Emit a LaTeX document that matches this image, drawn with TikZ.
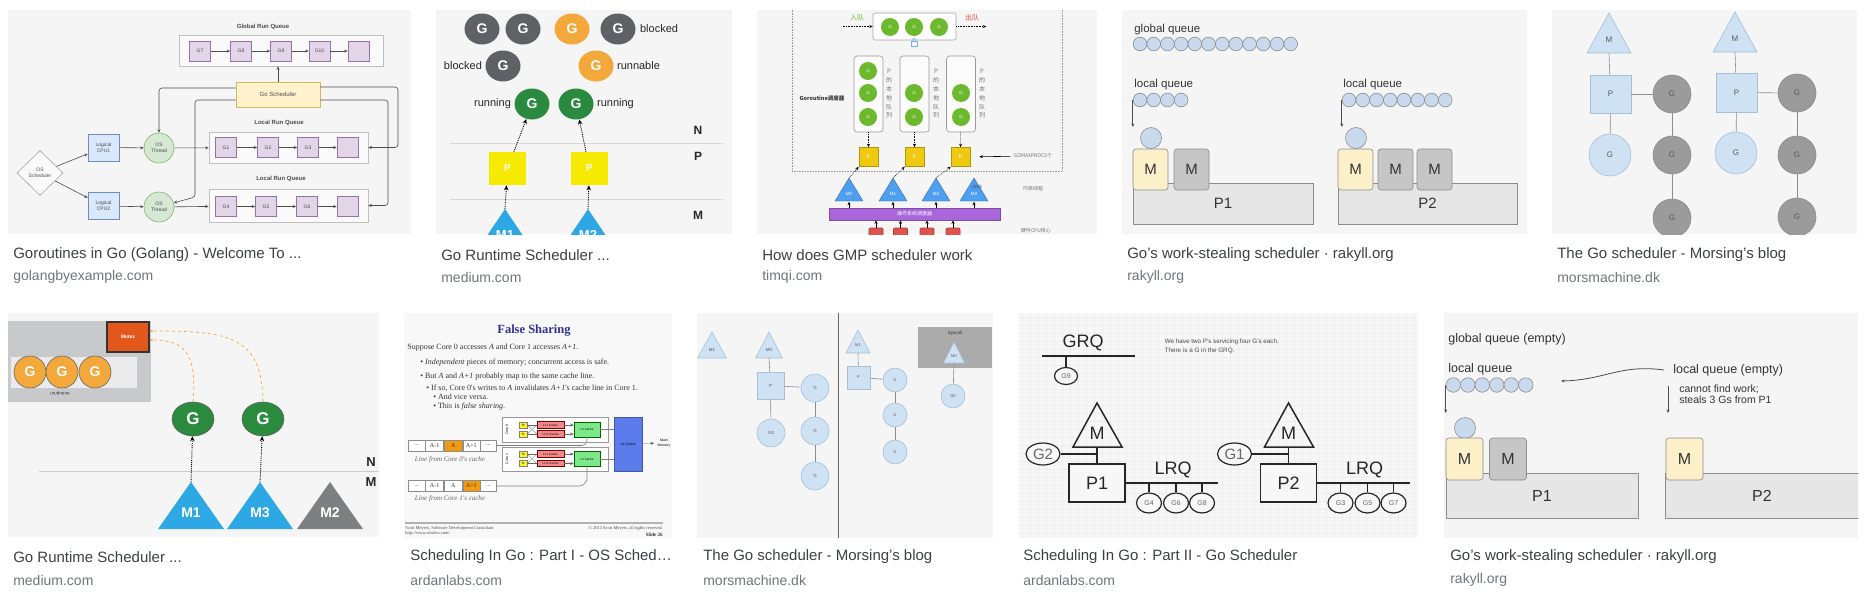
\documentclass[tikz,border=0pt]{standalone}
\usepackage{fontspec}
\setmainfont{Liberation Sans}
\newfontfamily\slidefont{Liberation Serif}
\newfontfamily\cjk{Noto Sans CJK SC}
\usepackage{graphicx}
\usepackage{tikz}
\usetikzlibrary{positioning}
\usetikzlibrary{arrows.meta}
\usetikzlibrary{shapes.geometric}

\newcommand{\fsz}[1]{\fontsize{#1}{1.2\dimexpr#1pt\relax}\selectfont}

\definecolor{thumbbg}{HTML}{F5F5F5}
\definecolor{captxt}{HTML}{3C4043}
\definecolor{sitetxt}{HTML}{70757A}
\definecolor{dioPurple}{HTML}{E1D5E7}
\definecolor{dioPurpleB}{HTML}{9673A6}
\definecolor{dioYellow}{HTML}{FFF2CC}
\definecolor{dioYellowB}{HTML}{D6B656}
\definecolor{dioBlue}{HTML}{DAE8FC}
\definecolor{dioBlueB}{HTML}{6C8EBF}
\definecolor{dioGreen}{HTML}{D5E8D4}
\definecolor{dioGreenB}{HTML}{82B366}
\definecolor{gBlocked}{HTML}{5F6166}
\definecolor{gRunnable}{HTML}{F2A83B}
\definecolor{gRunning}{HTML}{2A8A3E}
\definecolor{pYellow}{HTML}{F5EA00}
\definecolor{mBlue}{HTML}{2EA8E5}
\definecolor{mGray}{HTML}{7E7F81}
\definecolor{rqGray}{HTML}{C8C9CB}
\definecolor{mutexRed}{HTML}{E3571D}
\definecolor{tGreen}{HTML}{6CB92E}
\definecolor{tYellow}{HTML}{EEC90F}
\definecolor{tBlue}{HTML}{4E9FEF}
\definecolor{tPurple}{HTML}{A866DA}
\definecolor{tRed}{HTML}{E0524F}
\definecolor{rBlue}{HTML}{C9DAEF}
\definecolor{rYellow}{HTML}{FBF0C8}
\definecolor{rGray}{HTML}{C6C6C6}
\definecolor{rP}{HTML}{E6E6E6}
\definecolor{msLight}{HTML}{CFE2F3}
\definecolor{msLightB}{HTML}{A7BFD6}
\definecolor{msDark}{HTML}{9B9B9B}
\definecolor{slidebg}{HTML}{F8F8F8}
\definecolor{slideBlue}{HTML}{2E3192}
\definecolor{cacheOrange}{HTML}{F29A0E}
\definecolor{l1Red}{HTML}{F08A8A}
\definecolor{l2Green}{HTML}{7DE88A}
\definecolor{l3Blue}{HTML}{5B7CEA}
\definecolor{gridbg}{HTML}{F7F7F7}

\tikzset{
  caption/.style={anchor=west, inner sep=0, text=captxt, font=\fsz{15}},
  site/.style={anchor=west, inner sep=0, text=sitetxt, font=\fsz{14}},
  gq/.style={draw=dioPurpleB, fill=dioPurple, minimum width=21, minimum height=20, inner sep=0, font=\fsz{5}},
  runq/.style={draw=black!25, fill=white!50!thumbbg, inner sep=0},
  cpubox/.style={draw=dioBlueB, fill=dioBlue, minimum width=31, minimum height=27, inner sep=0, align=center, font=\fsz{5}},
  osthread/.style={circle, draw=dioGreenB, fill=dioGreen, minimum size=30, inner sep=0, align=center, font=\fsz{5}},
  gdot/.style={ellipse, minimum width=35, minimum height=31, inner sep=0, text=white, font=\bfseries\fsz{14}},
  gtag/.style={inner sep=0, text=black!85, font=\fsz{11}},
  gorange/.style={circle, fill=gRunnable, draw=black!60, minimum size=32, inner sep=0, text=white, font=\bfseries\fsz{14}},
  tg/.style={circle, fill=tGreen, minimum size=18, inner sep=0, text=white, font=\fsz{4.5}},
  tlq/.style={draw=black!40, fill=white!60!thumbbg, rounded corners=3, minimum width=29, minimum height=76, inner sep=0},
  tp/.style={fill=tYellow, draw=tYellow!75!black, minimum size=19, inner sep=0, text=white, font=\fsz{5}},
  tvert/.style={align=center, inner sep=0, text=black!55, font=\cjk\fontsize{6}{8.8}\selectfont},
  tcpu/.style={fill=tRed, draw=tRed!75!black, rounded corners=1, minimum width=14, minimum height=12, inner sep=0},
  rlabel/.style={anchor=west, inner sep=0, text=black!80, font=\fsz{11.5}},
  rarrow/.style={->, draw=black!70, line width=0.8},
  rg/.style={circle, draw=black!45, fill=rBlue, minimum size=13.7, inner sep=0},
  rm/.style={draw=black!45, rounded corners=3, minimum width=35, minimum height=41, inner sep=0, text=black!80, font=\fsz{15}},
  rp/.style={draw=black!45, fill=rP, minimum height=41, inner sep=0, text=black!80, font=\fsz{15}},
  msbox/.style={fill=msLight, draw=msLightB, inner sep=0, text=black!65, font=\fsz{8}},
  msg/.style={circle, fill=msLight, draw=msLightB, inner sep=0, text=black!65, font=\fsz{8}},
  msd/.style={circle, fill=msDark, draw=black!45, inner sep=0, text=black!65, font=\fsz{8}},
  msline/.style={draw=black!45},
  slidetxt/.style={anchor=west, inner sep=0, text=black!80, font=\slidefont\fsz{8}},
  cell/.style={draw=black!45, fill=white, minimum height=11, inner sep=0, text=black!80, font=\slidefont\fsz{6}},
  tt/.style={fill=yellow!85!white, draw=black!50, minimum width=8, minimum height=6, inner sep=0, font=\fsz{3}},
  lone/.style={fill=l1Red, draw=red!50!black, minimum width=27, minimum height=6.5, inner sep=0, font=\fsz{3}},
  ltwo/.style={fill=l2Green, draw=green!40!black, minimum width=26, minimum height=15, inner sep=0, font=\fsz{3}},
  gridline/.style={draw=black!7, line width=0.4},
  ardg/.style={ellipse, draw=black!85, line width=1.2, fill=gridbg, minimum width=25, minimum height=20, inner sep=0, text=black!60, font=\fsz{7}},
}

\begin{document}
\begin{tikzpicture}[x=1pt, y=-1pt, line width=0.6pt, >={Stealth[length=3.5pt, width=3pt]}]
  \fill[white] (0,0) rectangle (1868,592);
  \useasboundingbox (0,0) rectangle (1868,592);

  % golangbyexample
  \begin{scope}[black!70]
    \fill[thumbbg] (8,10) rectangle (411,234);
    \node[font=\bfseries\fsz{6}] (grqT) at (263,27) {Global Run Queue};
    \node[runq, minimum width=204, minimum height=31] (grq) at (281,50.5) {};
    \node[gq] (g7) at (200,51) {G7};
    \node[gq] (g8) at (241,51) {G8};
    \node[gq] (g9) at (281,51) {G9};
    \node[gq] (g10) at (319.5,51) {G10};
    \node[gq] (gx0) at (358.5,51) {};
    \draw[->] (g7) -- (g8);
    \draw[->] (g8) -- (g9);
    \draw[->] (g9) -- (g10);
    \draw[->] (g10) -- (gx0);
    \node[draw=dioYellowB, fill=dioYellow, minimum width=84, minimum height=25, inner sep=0, font=\fsz{6}] (gosch) at (278,94.5) {Go Scheduler};
    \draw[->] (gosch.north) -- (gosch.north |- grq.south);
    \node[font=\bfseries\fsz{6}] (lrqT1) at (279,123) {Local Run Queue};
    \node[runq, minimum width=159, minimum height=31] (lrq1) at (288.5,147.5) {};
    \node[gq] (g1) at (226,147.5) {G1};
    \node[gq] (g2) at (268,147.5) {G2};
    \node[gq] (g3) at (308,147.5) {G3};
    \node[gq] (gx1) at (347.5,147.5) {};
    \draw[->] (g1) -- (g2);
    \draw[->] (g2) -- (g3);
    \draw[->] (g3) -- (gx1);
    \node[font=\bfseries\fsz{6}] (lrqT2) at (281,179) {Local Run Queue};
    \node[runq, minimum width=159, minimum height=33] (lrq2) at (288.5,205.5) {};
    \node[gq] (g4) at (226,206.5) {G4};
    \node[gq] (g5) at (266,206.5) {G5};
    \node[gq] (g6) at (307,206.5) {G6};
    \node[gq] (gx2) at (347.5,206.5) {};
    \draw[->] (g4) -- (g5);
    \draw[->] (g5) -- (g6);
    \draw[->] (g6) -- (gx2);
    \node[diamond, draw=black!35, fill=white!40!thumbbg, minimum width=46, minimum height=45, inner sep=0, align=center, font=\fsz{5}] (ossch) at (40,173) {OS\\Scheduler};
    \node[cpubox] (cpu1) at (103.5,147.5) {Logical\\CPU1};
    \node[cpubox] (cpu2) at (103.5,206) {Logical\\CPU2};
    \node[osthread] (th1) at (159,148) {OS\\Thread};
    \node[osthread] (th2) at (159,207) {OS\\Thread};
    \draw[->] (ossch) -- (cpu1);
    \draw[->] (ossch) -- (cpu2);
    \draw[->] (cpu1) -- (th1);
    \draw[->] (cpu2) -- (th2);
    \draw[->] (th1) -- (lrq1);
    \draw[->] (th2) -- (lrq2);
    \draw[->, rounded corners=3] ([yshift=6.5]gosch.west) -| (th1);
    \draw[->, rounded corners=3] ([yshift=-5.5]gosch.west) -| (195,197) -- (th2);
    \draw[->, rounded corners=3] ([yshift=7.5]gosch.east) -| (398,147.5) -- (lrq1.east);
    \draw[->, rounded corners=3] ([yshift=-5.5]gosch.east) -| (388,205.5) -- (lrq2.east);
  \end{scope}

  % medium, G states
  \begin{scope}
    \clip (436,10) rectangle (732,234);
    \fill[thumbbg] (436,10) rectangle (732,234);
    \node[gdot, fill=gBlocked] (gb1) at (482,29) {G};
    \node[gdot, fill=gBlocked] (gb2) at (523,29) {G};
    \node[gdot, fill=gRunnable] (gr1) at (572,29) {G};
    \node[gdot, fill=gBlocked] (gb3) at (618,29) {G};
    \node[gtag, right=4pt of gb3] (tagb1) {blocked};
    \node[gdot, fill=gBlocked] (gb4) at (503,66) {G};
    \node[gtag, left=3pt of gb4] (tagb2) {blocked};
    \node[gdot, fill=gRunnable] (gr2) at (596,66) {G};
    \node[gtag, right=3pt of gr2] (tagr) {runnable};
    \node[gdot, fill=gRunning] (gn1) at (532,104) {G};
    \node[gtag, left=3pt of gn1] (tagn1) {running};
    \node[gdot, fill=gRunning] (gn2) at (576,104) {G};
    \node[gtag, right=3pt of gn2] (tagn2) {running};
    \node[font=\bfseries\fsz{12}, text=black!85] (lvN) at (698,130) {N};
    \node[font=\bfseries\fsz{12}, text=black!85] (lvP) at (698,156) {P};
    \node[font=\bfseries\fsz{12}, text=black!85] (lvM) at (698,215) {M};
    \draw[black!15, line width=1] (450,143) -- (723,143);
    \draw[black!15, line width=1] (450,199) -- (723,199);
    \node[fill=pYellow, minimum width=37, minimum height=33, inner sep=0, text=white, font=\bfseries\fsz{10}] (pp1) at (507.5,168.5) {P};
    \node[fill=pYellow, minimum width=37, minimum height=33, inner sep=0, text=white, font=\bfseries\fsz{10}] (pp2) at (589.5,168.5) {P};
    \fill[mBlue] (505,209) -- (472,258) -- (538,258) -- cycle;
    \fill[mBlue] (588,209) -- (555,258) -- (621,258) -- cycle;
    \coordinate (mm1) at (505,209);
    \coordinate (mm2) at (588,209);
    \node[text=white, font=\bfseries\fsz{13}] (mm1t) at (505,235) {M1};
    \node[text=white, font=\bfseries\fsz{13}] (mm2t) at (588,235) {M2};
    \draw[-{Stealth[length=5pt, width=4.5pt]}, densely dotted, line width=0.9] (mm1) -- (pp1);
    \draw[-{Stealth[length=5pt, width=4.5pt]}, densely dotted, line width=0.9] (mm2) -- (pp2);
    \draw[-{Stealth[length=5pt, width=4.5pt]}, densely dotted, line width=0.9] (pp1) -- (gn1);
    \draw[-{Stealth[length=5pt, width=4.5pt]}, densely dotted, line width=0.9] (pp2) -- (gn2);
  \end{scope}

  % timqi, GMP
  \begin{scope}
    \clip (757,10) rectangle (1097,234);
    \fill[thumbbg] (757,10) rectangle (1097,234);
    \draw[black!40, densely dotted] (792,0) rectangle (1062,171);
    \node[draw=black!35, fill=white, rounded corners=2, minimum width=83, minimum height=27, inner sep=0] (tgq) at (914.5,26.5) {};
    \node[tg] (tgq1) at (890,27) {G};
    \node[tg] (tgq2) at (914,27) {G};
    \node[tg] (tgq3) at (939,27) {G};
    \node[text=tGreen, font=\cjk\fsz{7}] (tin) at (857,18) {入队};
    \node[text=tRed, font=\cjk\fsz{7}] (tout) at (972,18) {出队};
    \draw[<-, densely dotted] (tgq.west) -- ++(-30,0);
    \draw[->, densely dotted] (tgq.east) -- ++(30,0);
    \draw[tBlue!80, line width=0.5] (911,41) rectangle (917,46);
    \draw[tBlue!80, line width=0.5] (912.5,41) -- (912.5,39.5) arc[start angle=180, end angle=360, radius=1.5] -- (915.5,41);
    \node[tlq] (tlq1) at (868.5,94) {};
    \node[tlq] (tlq2) at (914.5,94) {};
    \node[tlq] (tlq3) at (961,94) {};
    \node[tg] (tl11) at (868,71) {G};
    \node[tg] (tl12) at (868,93) {G};
    \node[tg] (tl13) at (868,117) {G};
    \node[tg] (tl22) at (914,93) {G};
    \node[tg] (tl23) at (914,117) {G};
    \node[tg] (tl32) at (961,93) {G};
    \node[tg] (tl33) at (961,117) {G};
    \node[tvert] (tv1) at (889,94) {P\\的\\本\\地\\队\\列};
    \node[tvert] (tv2) at (936,94) {P\\的\\本\\地\\队\\列};
    \node[tvert] (tv3) at (982,94) {P\\的\\本\\地\\队\\列};
    \node[font=\cjk\bfseries\fsz{5.5}, text=black!80] (tgs) at (822,98) {Goroutine调度器};
    \node[tp] (tp1) at (868.5,157) {P};
    \node[tp] (tp2) at (914.5,157) {P};
    \node[tp] (tp3) at (960.5,157) {P};
    \draw[->, densely dotted] (tlq1) -- (tp1);
    \draw[->, densely dotted] (tlq2) -- (tp2);
    \draw[->, densely dotted] (tlq3) -- (tp3);
    \node[font=\cjk\fsz{5}, text=black!55] (tgmx) at (1033,156) {GOMAXPROCS个};
    \draw[->, shorten >=9] (tgmx) -- (tp3);
    \node[fill=tPurple, draw=tPurple!75!black, minimum width=171, minimum height=12, inner sep=0, text=white, font=\cjk\fsz{5}] (tos) at (914.5,214) {操作系统调度器};
    \foreach \x/\n in {849/0, 893/1, 936/2, 974/3} {
      \filldraw[fill=tBlue, draw=tBlue!70!black, line width=0.4] (\x,178) -- (\x-14,201) -- (\x+14,201) -- cycle;
      \coordinate (tm\n) at (\x,178);
      \node[text=white, font=\fsz{4.5}] (tmt\n) at (\x,194) {M\n};
      \draw[->] (tos.north -| tm\n) -- ++(0,-6);
    }
    \draw[->, densely dotted] (tm0) -- (tp1.south west);
    \draw[->, densely dotted] (tm1) -- (tp2.south west);
    \draw[->, densely dotted] (tm2) -- (tp3.south west);
    \node[font=\cjk\fsz{4}, text=black!70] (tidle) at (977,187) {(空闲)};
    \node[font=\cjk\fsz{5}, text=black!55] (tkt) at (1033,189) {内核线程};
    \foreach \x/\n in {876/1, 900.5/2, 927/3, 953/4} {
      \node[tcpu] (tc\n) at (\x,234) {};
      \draw[->] (tc\n) -- (tc\n |- tos.south);
    }
    \node[font=\cjk\fsz{5}, text=black!55] (thw) at (1036,231) {硬件CPU核心};
  \end{scope}

  % rakyll, local queues
  \fill[thumbbg] (1122,10) rectangle (1527,234);
  \node[rlabel] (rgqT) at (1134,30) {global queue};
  \foreach \i in {0,...,11}
    \node[rg] (rgq\i) at (1140+13.7*\i,44) {};
  \node[rlabel] (rlqT1) at (1134,85) {local queue};
  \foreach \i in {0,...,3}
    \node[rg] (rlqa\i) at (1140+13.7*\i,100) {};
  \draw[rarrow] (rlqa0.west) -- ++(0,27);
  \node[rp, minimum width=180] (rp1) at (1223,203.5) {P1};
  \node[rg, minimum size=21] (rcur1) at (1151,138) {};
  \node[rm, fill=rYellow] (rm1) at (1150.5,169.5) {M};
  \node[rm, fill=rGray] (rm2) at (1191.5,169.5) {M};
  \node[rlabel] (rlqT2) at (1343,85) {local queue};
  \foreach \i in {0,...,7}
    \node[rg] (rlqb\i) at (1349+13.75*\i,100) {};
  \draw[rarrow] (rlqb0.west) -- ++(0,27);
  \node[rp, minimum width=179] (rp2) at (1427.5,203.5) {P2};
  \node[rg, minimum size=21] (rcur2) at (1356,138) {};
  \node[rm, fill=rYellow] (rm3) at (1355.5,169.5) {M};
  \node[rm, fill=rGray] (rm4) at (1395.5,169.5) {M};
  \node[rm, fill=rGray] (rm5) at (1434.5,169.5) {M};

  % morsing, M P G
  \begin{scope}
    \clip (1552,10) rectangle (1857,234);
    \fill[thumbbg] (1552,10) rectangle (1857,234);
    \filldraw[fill=msLight, draw=msLightB] (1609,13) -- (1587,53) -- (1631,53) -- cycle;
    \node[text=black!65, font=\fsz{8}] (msm1) at (1609,40) {M};
    \coordinate (msb1) at (1609,53);
    \node[msbox, minimum width=41, minimum height=38] (msp1) at (1610.5,94) {P};
    \node[msg, minimum size=42] (msl1) at (1610,155) {G};
    \node[msd, minimum size=38] (msd11) at (1672,94) {G};
    \node[msd, minimum size=38] (msd12) at (1672,155) {G};
    \node[msd, minimum size=38] (msd13) at (1672,218) {G};
    \draw[msline] (msb1) -- (msp1);
    \draw[msline] (msp1) -- (msl1);
    \draw[msline] (msp1) -- (msd11);
    \draw[msline] (msd11) -- (msd12);
    \draw[msline] (msd12) -- (msd13);
    \filldraw[fill=msLight, draw=msLightB] (1735,12) -- (1713,52) -- (1757,52) -- cycle;
    \node[text=black!65, font=\fsz{8}] (msm2) at (1735,39) {M};
    \coordinate (msb2) at (1735,52);
    \node[msbox, minimum width=41, minimum height=39] (msp2) at (1736.5,92.5) {P};
    \node[msg, minimum size=42] (msl2) at (1736,153) {G};
    \node[msd, minimum size=38] (msd21) at (1797,93) {G};
    \node[msd, minimum size=38] (msd22) at (1797,155) {G};
    \node[msd, minimum size=38] (msd23) at (1797,217) {G};
    \draw[msline] (msb2) -- (msp2);
    \draw[msline] (msp2) -- (msl2);
    \draw[msline] (msp2) -- (msd21);
    \draw[msline] (msd21) -- (msd22);
    \draw[msline] (msd22) -- (msd23);
  \end{scope}

  % medium, runqueue and mutex
  \begin{scope}
    \clip (8,313) rectangle (379,537);
    \fill[thumbbg] (8,313) rectangle (379,537);
    \node[fill=rqGray, minimum width=143, minimum height=81, inner sep=0] (rqbox) at (79.5,361.5) {};
    \node[fill=white!92!black, minimum width=126, minimum height=31, inner sep=0] (rqin) at (74,372.5) {};
    \node[gorange] (rqg1) at (30,372) {G};
    \node[gorange] (rqg2) at (62,372) {G};
    \node[gorange] (rqg3) at (95,372) {G};
    \node[font=\fsz{4.5}, text=black!80] (rqname) at (60,393) {\scalebox{1}[-1]{runqueue}};
    \node[fill=mutexRed, draw=black!80, line width=1.2, minimum width=42, minimum height=30, inner sep=0, text=white, font=\bfseries\fsz{5}] (mutex) at (128,337) {Mutex};
    \node[gdot, fill=gRunning, draw=black!60, minimum width=42, minimum height=34, font=\bfseries\fsz{17}] (mg1) at (193,419) {G};
    \node[gdot, fill=gRunning, draw=black!60, minimum width=42, minimum height=34, font=\bfseries\fsz{17}] (mg2) at (263,419) {G};
    \draw[->, dashed, gRunnable, line width=0.7] (mg1.north) .. controls (198,348) and (180,340) .. ([yshift=-3]mutex.east);
    \draw[->, dashed, gRunnable, line width=0.7] (mg2.north) .. controls (262,335) and (228,331) .. ([yshift=6]mutex.east);
    \draw[black!20, line width=1] (39,471) -- (379,471);
    \node[font=\bfseries\fsz{13}, text=black!85] (lvN2) at (371,462) {N};
    \node[font=\bfseries\fsz{13}, text=black!85] (lvM2) at (371,482) {M};
    \fill[mBlue] (191,482) -- (158,529) -- (224,529) -- cycle;
    \fill[mBlue] (260,482) -- (227,529) -- (293,529) -- cycle;
    \fill[mGray] (330,482) -- (297,529) -- (363,529) -- cycle;
    \node[text=white, font=\bfseries\fsz{14}] (mt1) at (191,513) {M1};
    \node[text=white, font=\bfseries\fsz{14}] (mt3) at (260,513) {M3};
    \node[text=white, font=\bfseries\fsz{14}] (mt2) at (330,513) {M2};
    \coordinate (mt1a) at (191,482);
    \coordinate (mt3a) at (260,482);
    \draw[-{Stealth[length=5pt, width=4.5pt]}, densely dotted, line width=0.9] (mt1a) -- (mg1);
    \draw[-{Stealth[length=5pt, width=4.5pt]}, densely dotted, line width=0.9] (mt3a) -- (mg2);
  \end{scope}

  % ardanlabs, false sharing slide
  \begin{scope}
    \clip (404,313) rectangle (672,538);
    \fill[slidebg] (404,313) rectangle (672,538);
    \node[font=\slidefont\bfseries\fsz{12.5}, text=slideBlue] (fsT) at (534,331) {False Sharing};
    \node[slidetxt] (fs1) at (407,348) {Suppose Core 0 accesses \textit{A} and Core 1 accesses \textit{A+1}.};
    \node[slidetxt] (fs2) at (420,363) {\textbullet\ \textit{Independent} pieces of memory; concurrent access is safe.};
    \node[slidetxt] (fs3) at (420,377) {\textbullet\ But \textit{A} and \textit{A+1} probably map to the same cache line.};
    \node[slidetxt] (fs4) at (426,388) {\textbullet\ If so, Core 0's writes to \textit{A} invalidates \textit{A+1}'s cache line in Core 1.};
    \node[slidetxt] (fs5) at (433,397) {\textbullet\ And vice versa.};
    \node[slidetxt] (fs6) at (433,407) {\textbullet\ This is \textit{false sharing}.};
    \node[draw=black!40, fill=white, minimum width=106, minimum height=25, inner sep=0] (core0) at (555,429.5) {};
    \node[draw=black!40, fill=white, minimum width=106, minimum height=24, inner sep=0] (core1) at (555,459) {};
    \node[rotate=90, font=\fsz{3.5}] (core0T) at (507,429.5) {Core 0};
    \node[rotate=90, font=\fsz{3.5}] (core1T) at (507,459) {Core 1};
    \node[fill=l3Blue, draw=l3Blue!70!black, minimum width=28, minimum height=54, inner sep=0, font=\fsz{3.5}] (l3) at (628,444) {L3 Cache};
    \foreach \c/\ya/\yb/\ym in {0/425/434/429.5, 1/454/463.5/459} {
      \node[tt] (t0c\c) at (523,\ya) {T0};
      \node[tt] (t1c\c) at (523,\yb) {T1};
      \node[lone] (l1ic\c) at (550.5,\ya) {L1 I-Cache};
      \node[lone] (l1dc\c) at (550.5,\yb) {L1 D-Cache};
      \node[ltwo] (l2c\c) at (587,\ym) {L2 Cache};
      \fill[cacheOrange] ([yshift=-1.5]l2c\c.north) circle (0.9);
      \draw[black!60, line width=0.3] (t0c\c.east) -- (l1ic\c.west);
      \draw[black!60, line width=0.3] (t1c\c.east) -- (l1dc\c.west);
      \draw[black!60, line width=0.3] (t0c\c.east) -- (l1dc\c.west);
      \draw[black!60, line width=0.3] (t1c\c.east) -- (l1ic\c.west);
      \draw[black!60, line width=0.3, ->] (l1ic\c.east) -- (l1ic\c.east -| l2c\c.west);
      \draw[black!60, line width=0.3, ->] (l1dc\c.east) -- (l1dc\c.east -| l2c\c.west);
      \draw[black!50, line width=0.4] (l2c\c.east) -- (l2c\c.east -| l3.west);
    }
    \node[font=\fsz{3.5}, align=center] (mainmem) at (664,443) {Main\\Memory};
    \draw[->, black!60, line width=0.3] (l3) -- (mainmem);
    \node[cell, minimum width=17] (cl0a) at (416.5,445.5) {...};
    \node[cell, minimum width=18, right=0pt of cl0a] (cl0b) {A-1};
    \node[cell, minimum width=18, fill=cacheOrange, right=0pt of cl0b] (cl0c) {A};
    \node[cell, minimum width=17, right=0pt of cl0c] (cl0d) {A+1};
    \node[cell, minimum width=16, right=0pt of cl0d] (cl0e) {...};
    \node[font=\slidefont\itshape\fsz{7}, text=black!60] (cl0T) at (450,460) {Line from Core 0's cache};
    \node[cell, minimum width=17] (cl1a) at (416.5,486) {...};
    \node[cell, minimum width=18, right=0pt of cl1a] (cl1b) {A-1};
    \node[cell, minimum width=18, right=0pt of cl1b] (cl1c) {A};
    \node[cell, minimum width=17, fill=cacheOrange, right=0pt of cl1c] (cl1d) {A+1};
    \node[cell, minimum width=16, right=0pt of cl1d] (cl1e) {...};
    \node[font=\slidefont\itshape\fsz{7}, text=black!60] (cl1T) at (450,499) {Line from Core 1's cache};
    \draw[black!50, rounded corners=5] (cl0e.east) -| (l2c0.south);
    \draw[black!50, rounded corners=8] (cl1e.east) -| (l2c1.south);
    \draw[black!30, line width=1.5] (405,523) -- (663,523);
    \node[anchor=west, inner sep=0, text=black!70, font=\slidefont\fsz{4.5}] (ft1) at (405,528) {Scott Meyers, Software Development Consultant};
    \node[anchor=west, inner sep=0, text=black!70, font=\slidefont\fsz{4.5}] (ft2) at (405,533) {http://www.aristeia.com/};
    \node[anchor=east, inner sep=0, text=black!70, font=\slidefont\fsz{4.5}] (ft3) at (663,528) {\textcopyright{} 2013 Scott Meyers, all rights reserved.};
    \node[anchor=east, inner sep=0, text=black!80, font=\slidefont\bfseries\fsz{5}] (ft4) at (663,535) {Slide 26};
  \end{scope}

  % morsing, syscall
  \fill[thumbbg] (697,313) rectangle (993,538);
  \coordinate (msdivT) at (838,313);
  \coordinate (msdivB) at (838,538);
  \draw[black!60, line width=0.8] (msdivT) -- (msdivB);
  \filldraw[fill=msLight, draw=msLightB] (712,332) -- (697.5,358) -- (726.5,358) -- cycle;
  \filldraw[fill=msLight, draw=msLightB] (769,332) -- (755.5,358) -- (782.5,358) -- cycle;
  \node[text=black!65, font=\fsz{4.5}] (ms3m1) at (712,350) {M1};
  \node[text=black!65, font=\fsz{4.5}] (ms3m0) at (769,350) {M0};
  \coordinate (ms3b) at (769,358);
  \node[msbox, minimum size=27, font=\fsz{4.5}] (ms3p) at (770.5,385.5) {P};
  \node[msg, minimum size=28, font=\fsz{4.5}] (ms3g0) at (771,433) {G0};
  \node[msg, minimum size=28, font=\fsz{4.5}] (ms3g1) at (815,388) {G};
  \node[msg, minimum size=28, font=\fsz{4.5}] (ms3g2) at (815,431) {G};
  \node[msg, minimum size=28, font=\fsz{4.5}] (ms3g3) at (815,476) {G};
  \draw[msline] (ms3b) -- (ms3p);
  \draw[msline] (ms3p) -- (ms3g0);
  \draw[msline] (ms3p) -- (ms3g1);
  \draw[msline] (ms3g1) -- (ms3g2);
  \draw[msline] (ms3g2) -- (ms3g3);
  \filldraw[fill=msLight, draw=msLightB] (858,330) -- (846,353) -- (870,353) -- cycle;
  \node[text=black!65, font=\fsz{4}] (ms4m1) at (858,345) {M1};
  \coordinate (ms4b) at (858,353);
  \node[msbox, minimum size=23, font=\fsz{4}] (ms4p) at (858.5,377.5) {P};
  \node[msg, minimum size=24, font=\fsz{4}] (ms4g1) at (895,380) {G};
  \node[msg, minimum size=24, font=\fsz{4}] (ms4g2) at (895,415) {G};
  \node[msg, minimum size=24, font=\fsz{4}] (ms4g3) at (895,452) {G};
  \draw[msline] (ms4b) -- (ms4p);
  \draw[msline] (ms4p) -- (ms4g1);
  \draw[msline] (ms4g1) -- (ms4g2);
  \draw[msline] (ms4g2) -- (ms4g3);
  \node[fill=black!33, minimum width=74, minimum height=41, inner sep=0] (sysc) at (955,347.5) {};
  \node[text=black!80, font=\fsz{4.5}] (syscT) at (955,333) {Syscall};
  \filldraw[fill=msLight, draw=msLightB] (954,342) -- (943.5,363) -- (964.5,363) -- cycle;
  \node[text=black!65, font=\fsz{4}] (ms4m0) at (954,356) {M0};
  \coordinate (ms4c) at (954,363);
  \node[msg, minimum size=24, font=\fsz{4}] (ms4g0) at (953,396) {G0};
  \draw[msline] (ms4c) -- (ms4g0);

  % ardanlabs, GRQ and LRQ
  \fill[gridbg] (1018,313) rectangle (1418,538);
  \foreach \gx in {1022,1030,...,1414}
    \draw[gridline] (\gx,313) -- (\gx,538);
  \foreach \gy in {317,325,...,533}
    \draw[gridline] (1018,\gy) -- (1418,\gy);
  \begin{scope}[black!85, line width=1.5]
    \node[font=\fsz{18}] (agrq) at (1083,343) {GRQ};
    \coordinate (grqL) at (1042,356);
    \coordinate (grqR) at (1135,356);
    \draw (grqL) -- (grqR);
    \node[ardg, minimum width=23, minimum height=17] (ag9) at (1066,376) {G9};
    \draw (ag9) -- (ag9 |- grqL);
    \node[anchor=north west, align=left, inner sep=0, text=black!70, font=\fontsize{6.3}{9}\selectfont] (anote) at (1164,338) {We have two P's servicing four G's each.\\There is a G in the GRQ.};
    \draw (1097,403) -- (1073,447) -- (1122,447) -- cycle;
    \node[font=\fsz{18}] (am1) at (1097,433) {M};
    \coordinate (am1b) at (1097,447);
    \node[draw, fill=gridbg, minimum width=56, minimum height=38, inner sep=0, font=\fsz{18}] (ap1) at (1097,483) {P1};
    \draw (am1b) -- (ap1);
    \node[ardg, minimum width=34, minimum height=22, font=\fsz{15}] (ag2) at (1043,454) {G2};
    \draw (ag2) -- (ag2 -| ap1);
    \node[font=\fsz{18}] (alrq1) at (1173,470) {LRQ};
    \coordinate (alrqE1) at (1218,483);
    \draw (ap1.east) -- (alrqE1);
    \node[ardg] (ag4) at (1149,503) {G4};
    \node[ardg] (ag6) at (1176,503) {G6};
    \node[ardg] (ag8) at (1202,503) {G8};
    \draw (ag4) -- (ag4 |- alrqE1);
    \draw (ag6) -- (ag6 |- alrqE1);
    \draw (ag8) -- (ag8 |- alrqE1);
    \draw (1288.5,403) -- (1264.5,447) -- (1313.5,447) -- cycle;
    \node[font=\fsz{18}] (am2) at (1288.5,433) {M};
    \coordinate (am2b) at (1288.5,447);
    \node[draw, fill=gridbg, minimum width=56, minimum height=38, inner sep=0, font=\fsz{18}] (ap2) at (1288.5,483) {P2};
    \draw (am2b) -- (ap2);
    \node[ardg, minimum width=34, minimum height=22, font=\fsz{15}] (ag1) at (1234.5,454) {G1};
    \draw (ag1) -- (ag1 -| ap2);
    \node[font=\fsz{18}] (alrq2) at (1364.5,470) {LRQ};
    \coordinate (alrqE2) at (1409.5,483);
    \draw (ap2.east) -- (alrqE2);
    \node[ardg] (ag3) at (1340.5,503) {G3};
    \node[ardg] (ag5) at (1367.5,503) {G5};
    \node[ardg] (ag7) at (1393.5,503) {G7};
    \draw (ag3) -- (ag3 |- alrqE2);
    \draw (ag5) -- (ag5 |- alrqE2);
    \draw (ag7) -- (ag7 |- alrqE2);
  \end{scope}

  % rakyll, stealing
  \begin{scope}
    \clip (1444,313) rectangle (1858,538);
    \fill[thumbbg] (1444,313) rectangle (1858,538);
    \node[rlabel, font=\fsz{12.5}] (r2gqT) at (1448,339) {global queue (empty)};
    \node[rlabel, font=\fsz{12.5}] (r2lqT) at (1448,369) {local queue};
    \foreach \i in {0,...,5}
      \node[rg, minimum size=14.5] (r2lq\i) at (1453.25+14.5*\i,385) {};
    \draw[rarrow] (r2lq0.west) -- ++(0,28);
    \node[rp, minimum width=192, minimum height=45, font=\fsz{16}] (r2p1) at (1542,495.5) {P1};
    \node[rg, minimum size=21] (r2cur) at (1465,428) {};
    \node[rm, fill=rYellow, minimum width=37, minimum height=42, font=\fsz{16}] (r2m1) at (1464.5,459) {M};
    \node[rm, fill=rGray, minimum width=37, minimum height=42, font=\fsz{16}] (r2m2) at (1508,459) {M};
    \node[rlabel, font=\fsz{12.5}] (r2lqe) at (1673,370) {local queue (empty)};
    \coordinate (stealTo) at (1561,381);
    \draw[rarrow] ([xshift=-9]r2lqe.west) .. controls (1620,364) and (1605,380) .. (stealTo);
    \node[rlabel, anchor=north west, align=left, font=\fontsize{10.5}{11}\selectfont] (r2steal) at (1679,385) {cannot find work;\\steals 3 Gs from P1};
    \coordinate (r2arr) at (1668,386);
    \draw[rarrow] (r2arr) -- ++(0,27);
    \node[rp, minimum width=194, minimum height=45, font=\fsz{16}] (r2p2) at (1762,495.5) {P2};
    \node[rm, fill=rYellow, minimum width=37, minimum height=42, font=\fsz{16}] (r2m3) at (1684.5,459) {M};
  \end{scope}

  % captions
  \node[caption] (cap1) at (13,255) {Goroutines in Go (Golang) - Welcome To ...};
  \node[site] (site1) at (13,277) {golangbyexample.com};
  \node[caption] (cap2) at (441,255) {Go Runtime Scheduler ...};
  \node[site] (site2) at (441,277) {medium.com};
  \node[caption] (cap3) at (762,255) {How does GMP scheduler work};
  \node[site] (site3) at (762,277) {timqi.com};
  \node[caption] (cap4) at (1127,255) {Go's work-stealing scheduler · rakyll.org};
  \node[site] (site4) at (1127,277) {rakyll.org};
  \node[caption] (cap5) at (1557,255) {The Go scheduler - Morsing's blog};
  \node[site] (site5) at (1557,277) {morsmachine.dk};
  \node[caption] (cap6) at (13,557) {Go Runtime Scheduler ...};
  \node[site] (site6) at (13,580) {medium.com};
  \node[caption] (cap7) at (410,557) {Scheduling In Go : Part I - OS Sched…};
  \node[site] (site7) at (410,580) {ardanlabs.com};
  \node[caption] (cap8) at (703,557) {The Go scheduler - Morsing's blog};
  \node[site] (site8) at (703,580) {morsmachine.dk};
  \node[caption] (cap9) at (1023,557) {Scheduling In Go : Part II - Go Scheduler};
  \node[site] (site9) at (1023,580) {ardanlabs.com};
  \node[caption] (cap10) at (1450,557) {Go's work-stealing scheduler · rakyll.org};
  \node[site] (site10) at (1450,580) {rakyll.org};
\end{tikzpicture}
\end{document}
